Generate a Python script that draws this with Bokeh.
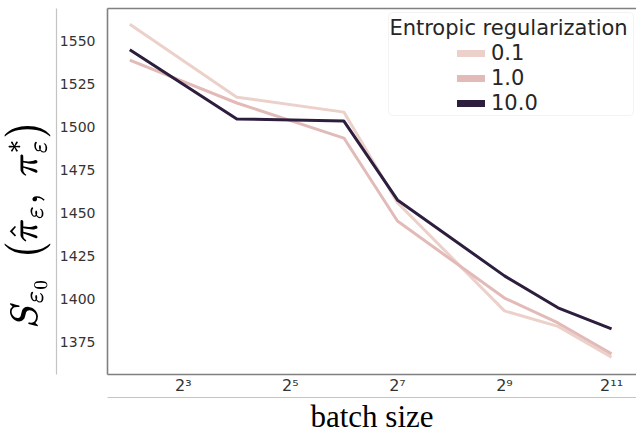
from bokeh.plotting import figure
from bokeh.embed import file_html
from bokeh.resources import INLINE
from bokeh.models import (Range1d, FixedTicker, LinearAxis, BoxAnnotation, Label,
                          Legend, LegendItem)

# ---- data ----
batch_size = [4, 16, 64, 128, 512, 1024, 2048]
reg_levels = ["0.1", "1.0", "10.0"]
s_reg_01 = [1559.9, 1517.4, 1508.7, 1456.0, 1393.0, 1384.0, 1366.0]
s_reg_1 = [1539.0, 1514.0, 1493.6, 1445.3, 1400.5, 1386.0, 1368.0]
s_reg_10 = [1545.0, 1504.7, 1503.5, 1457.6, 1413.4, 1394.8, 1382.6]
x_ticks = [8, 32, 128, 512, 2048]
x_tick_labels = ["2³", "2⁵", "2⁷", "2⁹", "2¹¹"]
y_ticks = [1375, 1400, 1425, 1450, 1475, 1500, 1525, 1550]

colors = ["#ecd1cb", "#e2bbb8", "#2d1e3e"]
series = [s_reg_01, s_reg_1, s_reg_10]

p = figure(width=636, height=436, x_axis_type="log",
           x_range=Range1d(2 ** 1.584, 2 ** 11.466), y_range=Range1d(1356, 1569),
           output_backend="svg", toolbar_location=None,
           min_border_left=107, min_border_right=0, min_border_top=8, min_border_bottom=61)
p.grid.visible = False
p.outline_line_color = None
p.background_fill_color = "white"
p.border_fill_color = "white"

frame_col = "#808080"
outer_col = "#c4c4c4"
no_ticks = dict(major_tick_line_color=None, minor_tick_line_color=None,
                major_tick_out=0, major_tick_in=0, minor_tick_out=0, minor_tick_in=0)

# inner x axis (tick labels)
xa = p.xaxis[0]
xa.update(**no_ticks)
xa.ticker = FixedTicker(ticks=x_ticks)
xa.major_label_overrides = {t: lab for t, lab in zip(x_ticks, x_tick_labels)}
xa.axis_line_color = frame_col
xa.axis_line_width = 1.6
xa.major_label_standoff = 1
xa.major_label_text_font = "DejaVu Sans"
xa.major_label_text_font_size = "16px"
xa.major_label_text_color = "#333333"

# outer x axis (light line + label)
xd = LinearAxis(ticker=FixedTicker(ticks=[]), axis_line_color=outer_col, axis_line_width=1.2,
                axis_label="batch size", axis_label_text_font="Liberation Serif",
                axis_label_text_font_style="normal", axis_label_text_font_size="31px",
                axis_label_text_color="#000000", axis_label_standoff=1, **no_ticks)
p.add_layout(xd, "below")

# inner y axis (tick labels)
ya = p.yaxis[0]
ya.update(**no_ticks)
ya.ticker = FixedTicker(ticks=y_ticks)
ya.axis_line_color = frame_col
ya.axis_line_width = 1.6
ya.major_label_standoff = 12
ya.major_label_text_font = "DejaVu Sans"
ya.major_label_text_font_size = "14px"
ya.major_label_text_color = "#333333"

# outer y axis (light line + label)
yb = LinearAxis(ticker=FixedTicker(ticks=[]), axis_line_color=outer_col, axis_line_width=1.2,
                axis_label=r"$$S_{\varepsilon_0}\;\left(\hat{\pi}_\varepsilon,\; \pi^*_\varepsilon\right)\hspace{1.7em}$$",
                axis_label_text_font_size="32px", axis_label_text_color="#000000",
                axis_label_standoff=6, **no_ticks)
p.add_layout(yb, "left")

# top spine
top = LinearAxis(ticker=FixedTicker(ticks=[]), axis_line_color=frame_col, axis_line_width=1.6,
                 **no_ticks)
p.add_layout(top, "above")

# lines
for s, c in zip(series, colors):
    p.line(batch_size, s, line_color=c, line_width=3, line_join="round")

# legend proxies (thicker samples, hidden in plot)
proxies = [p.line(batch_size, s, line_color=c, line_width=7, line_cap="round", visible=False)
           for s, c in zip(series, colors)]

p.add_layout(BoxAnnotation(left=281, right=526, top=362, bottom=259,
                           left_units="screen", right_units="screen",
                           top_units="screen", bottom_units="screen",
                           fill_color="white", fill_alpha=1, line_color="#d8d8d8",
                           line_width=1, border_radius=4))
p.add_layout(Label(x=401, y=347, x_units="screen", y_units="screen",
                   text="Entropic regularization", text_align="center", text_baseline="middle",
                   text_font="DejaVu Sans", text_font_size="21px", text_color="#262626"))
leg = Legend(items=[LegendItem(label=l, renderers=[r]) for l, r in zip(reg_levels, proxies)],
             location=(350, 259), glyph_width=28, glyph_height=20, label_standoff=6,
             spacing=1, padding=0, margin=0, border_line_color=None,
             background_fill_alpha=0, label_text_font="DejaVu Sans",
             label_text_font_size="21px", label_text_color="#262626")
p.add_layout(leg, "center")

open("out.html", "w").write(file_html(p, INLINE))
